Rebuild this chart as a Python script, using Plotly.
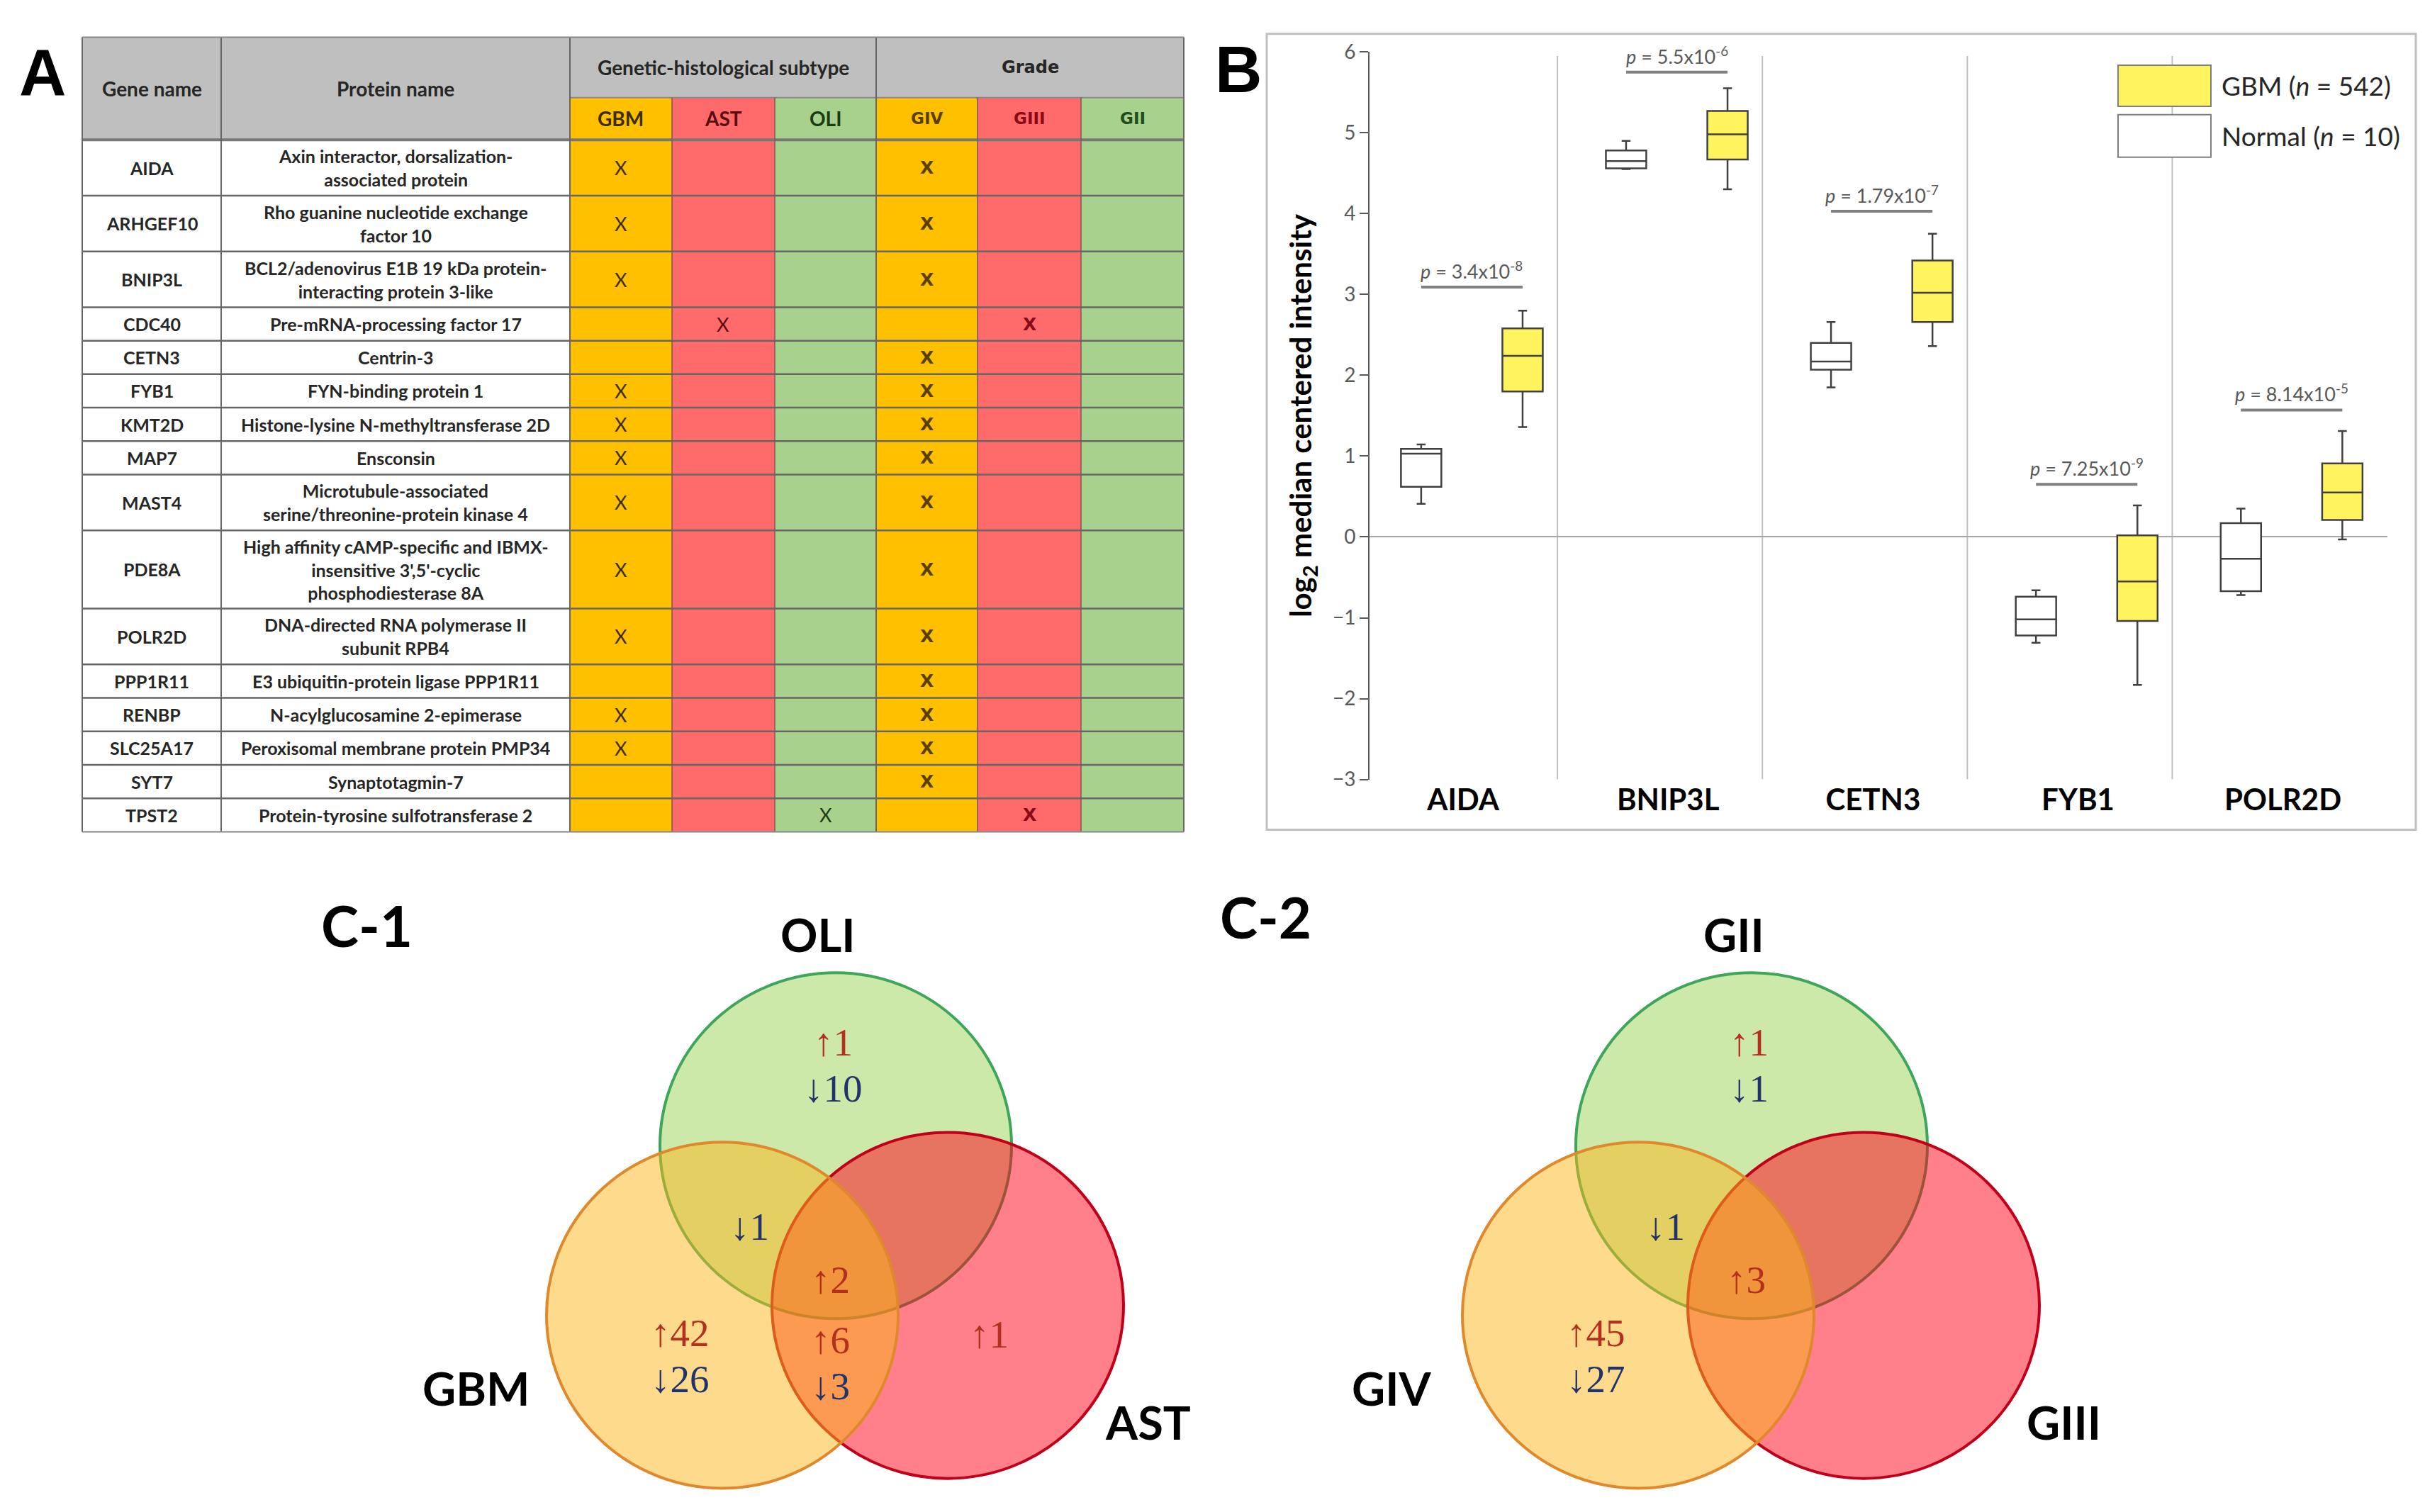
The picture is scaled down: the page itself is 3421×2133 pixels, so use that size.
import plotly.graph_objects as go

W, H = 3421, 2133

# ---------------- Panel A : table data ----------------
genes = ["AIDA", "ARHGEF10", "BNIP3L", "CDC40", "CETN3", "FYB1", "KMT2D", "MAP7",
         "MAST4", "PDE8A", "POLR2D", "PPP1R11", "RENBP", "SLC25A17", "SYT7", "TPST2"]
proteins = [
    "Axin interactor, dorsalization-<br>associated protein",
    "Rho guanine nucleotide exchange<br>factor 10",
    "BCL2/adenovirus E1B 19 kDa protein-<br>interacting protein 3-like",
    "Pre-mRNA-processing factor 17",
    "Centrin-3",
    "FYN-binding protein 1",
    "Histone-lysine N-methyltransferase 2D",
    "Ensconsin",
    "Microtubule-associated<br>serine/threonine-protein kinase 4",
    "High affinity cAMP-specific and IBMX-<br>insensitive 3',5'-cyclic<br>phosphodiesterase 8A",
    "DNA-directed RNA polymerase II<br>subunit RPB4",
    "E3 ubiquitin-protein ligase PPP1R11",
    "N-acylglucosamine 2-epimerase",
    "Peroxisomal membrane protein PMP34",
    "Synaptotagmin-7",
    "Protein-tyrosine sulfotransferase 2",
]
subtype_mark = ["GBM", "GBM", "GBM", "AST", "", "GBM", "GBM", "GBM",
                "GBM", "GBM", "GBM", "", "GBM", "GBM", "", "OLI"]
grade_mark = ["GIV", "GIV", "GIV", "GIII", "GIV", "GIV", "GIV", "GIV",
              "GIV", "GIV", "GIV", "GIV", "GIV", "GIV", "GIV", "GIII"]
subtype_cols = ["GBM", "AST", "OLI"]
grade_cols = ["GIV", "GIII", "GII"]
header_group = ["Genetic-histological subtype", "Grade"]

# ---------------- Panel B : box plot data ----------------
box_genes = ["AIDA", "BNIP3L", "CETN3", "FYB1", "POLR2D"]
normal_low = [0.41, 4.55, 1.85, -1.31, -0.72]
normal_q1 = [0.62, 4.56, 2.07, -1.22, -0.67]
normal_med = [1.03, 4.65, 2.17, -1.02, -0.27]
normal_q3 = [1.09, 4.78, 2.40, -0.74, 0.17]
normal_high = [1.145, 4.90, 2.66, -0.66, 0.35]
gbm_low = [1.36, 4.30, 2.36, -1.83, -0.03]
gbm_q1 = [1.80, 4.67, 2.66, -1.04, 0.21]
gbm_med = [2.24, 4.98, 3.02, -0.55, 0.55]
gbm_q3 = [2.58, 5.27, 3.42, 0.02, 0.91]
gbm_high = [2.80, 5.55, 3.75, 0.39, 1.31]
p_values = ["3.4x10<sup>-8</sup>", "5.5x10<sup>-6</sup>", "1.79x10<sup>-7</sup>",
            "7.25x10<sup>-9</sup>", "8.14x10<sup>-5</sup>"]
p_line_y = [3.09, 5.75, 4.03, 0.65, 1.57]
legend_labels = ["GBM (<i>n</i> = 542)", "Normal (<i>n</i> = 10)"]

# ---------------- Panel C : Venn data ----------------
venn_titles = ["C-1", "C-2"]
venn_sets = [["GBM", "AST", "OLI"], ["GIV", "GIII", "GII"]]   # left, right, top
venn_regions = ["T", "LT", "LRT", "L", "LR", "R", "RT"]
venn_up = [[1, 0, 2, 42, 6, 1, 0], [1, 0, 3, 45, 0, 0, 0]]
venn_down = [[10, 1, 0, 26, 3, 0, 0], [1, 1, 0, 27, 0, 0, 0]]

# ---------------- helpers / style ----------------
NARROW = "Lato, sans-serif"
VERD = "DejaVu Sans, sans-serif"
SANS = "Lato, sans-serif"
SERIF = "Liberation Serif, Times New Roman, serif"


def X(px):
    return px / W


def Y(py):
    return 1 - py / H


shapes = []
annots = []


def rect(x0, y0, x1, y1, fill=None, line=None, lw=0, layer="above"):
    d = dict(type="rect", xref="paper", yref="paper", x0=X(x0), x1=X(x1), y0=Y(y1), y1=Y(y0),
             layer=layer, line=dict(width=lw, color=line or "rgba(0,0,0,0)"))
    if fill:
        d["fillcolor"] = fill
    shapes.append(d)


def pline(x0, y0, x1, y1, color, lw):
    shapes.append(dict(type="line", xref="paper", yref="paper", x0=X(x0), x1=X(x1),
                       y0=Y(y0), y1=Y(y1), line=dict(color=color, width=lw)))


def text(px, py, t, size, color="#1a1a1a", family=SANS, xanchor="center"):
    annots.append(dict(x=X(px), y=Y(py), xref="paper", yref="paper", text=t, showarrow=False,
                       xanchor=xanchor, yanchor="middle", align="center",
                       font=dict(size=size, color=color, family=family)))


# ================= Panel A =================
col_edges = [108, 304, 796, 940, 1085, 1228, 1371, 1517, 1662]
tab_top, head_split, head_bot, tab_bot = 27, 113.5, 174, 1166
group_fill = {"GBM": "#FFC000", "AST": "#FF6B6B", "OLI": "#A9D18E",
              "GIV": "#FFC000", "GIII": "#FF6B6B", "GII": "#A9D18E"}
group_text = {"GBM": "#3d2c00", "AST": "#5a0d10", "OLI": "#1d3b12",
              "GIV": "#5a4000", "GIII": "#8b0a18", "GII": "#1e4d1e"}
all_cols = subtype_cols + grade_cols

rect(col_edges[0], tab_top, col_edges[2], head_bot, fill="#BFBFBF")
rect(col_edges[2], tab_top, col_edges[-1], head_split, fill="#BFBFBF")
for k, c in enumerate(all_cols):
    rect(col_edges[2 + k], head_split, col_edges[3 + k], tab_bot, fill=group_fill[c])
rect(col_edges[0], head_bot, col_edges[2], tab_bot, fill="white")

n_lines = [p.count("<br>") + 1 for p in proteins]
weights = [48 + 32 * (n - 1) for n in n_lines]
scale = (tab_bot - head_bot) / sum(weights)
row_edges = [head_bot]
for wgt in weights:
    row_edges.append(row_edges[-1] + wgt * scale)

for yb in row_edges[1:-1]:
    pline(col_edges[0], yb, col_edges[-1], yb, "#666666", 2.5)
pline(col_edges[0], head_bot, col_edges[-1], head_bot, "#777777", 4)
pline(col_edges[2], head_split, col_edges[-1], head_split, "#888888", 2)
for k, xe in enumerate(col_edges):
    if k in (0, 1, 2, 5, 8):
        pline(xe, tab_top, xe, tab_bot, "#666666", 2)
    else:
        pline(xe, head_split, xe, tab_bot, "#7a5a5a", 1.5)
pline(col_edges[0], tab_top, col_edges[-1], tab_top, "#888888", 2)
pline(col_edges[0], tab_bot, col_edges[-1], tab_bot, "#888888", 2)

text((col_edges[0] + col_edges[1]) / 2, (tab_top + head_bot) / 2, "<b>Gene name</b>", 28, "#262626", NARROW)
text((col_edges[1] + col_edges[2]) / 2, (tab_top + head_bot) / 2, "<b>Protein name</b>", 28, "#262626", NARROW)
text((col_edges[2] + col_edges[5]) / 2, (tab_top + head_split) / 2, "<b>%s</b>" % header_group[0], 28, "#262626", NARROW)
text((col_edges[5] + col_edges[8]) / 2, (tab_top + head_split) / 2, "<b>%s</b>" % header_group[1], 24, "#262626", VERD)
for k, c in enumerate(all_cols):
    fam, sz = (NARROW, 28) if k < 3 else (VERD, 23)
    text((col_edges[2 + k] + col_edges[3 + k]) / 2, (head_split + head_bot) / 2, "<b>%s</b>" % c, sz,
         group_text[c], fam)

for r, g in enumerate(genes):
    yc = (row_edges[r] + row_edges[r + 1]) / 2
    text((col_edges[0] + col_edges[1]) / 2, yc, "<b>%s</b>" % g, 25, "#262626", NARROW)
    text((col_edges[1] + col_edges[2]) / 2, yc, "<b>%s</b>" % proteins[r], 25, "#262626", NARROW)
    if subtype_mark[r]:
        k = all_cols.index(subtype_mark[r])
        text((col_edges[2 + k] + col_edges[3 + k]) / 2, yc, "X", 27, group_text[subtype_mark[r]], NARROW)
    if grade_mark[r]:
        k = all_cols.index(grade_mark[r])
        text((col_edges[2 + k] + col_edges[3 + k]) / 2, yc, "<b>X</b>", 25, group_text[grade_mark[r]], VERD)

text(52, 77, "<b>A</b>", 92, "black", "Liberation Sans, Arial, sans-serif")

# ================= Panel B =================
NORMAL_OFF, GBM_OFF, BOX_W = -0.165, 0.33, 0.197
idx = list(range(len(box_genes)))
fig = go.Figure()
fig.add_trace(go.Box(x=[i + NORMAL_OFF for i in idx], q1=normal_q1, median=normal_med, q3=normal_q3,
                     lowerfence=normal_low, upperfence=normal_high, width=BOX_W,
                     fillcolor="white", line=dict(color="#404040", width=2.5), whiskerwidth=0.22,
                     boxpoints=False, showlegend=False, hoverinfo="skip", name="Normal"))
fig.add_trace(go.Box(x=[i + GBM_OFF for i in idx], q1=gbm_q1, median=gbm_med, q3=gbm_q3,
                     lowerfence=gbm_low, upperfence=gbm_high, width=BOX_W,
                     fillcolor="#FFF35E", line=dict(color="#404040", width=2.5), whiskerwidth=0.22,
                     boxpoints=False, showlegend=False, hoverinfo="skip", name="GBM"))

for i in idx[:-1]:
    shapes.append(dict(type="line", xref="x", yref="y", x0=i + 0.5, x1=i + 0.5, y0=-3, y1=5.95,
                       layer="below", line=dict(color="#BFBFBF", width=2)))
for i in idx:
    shapes.append(dict(type="line", xref="x", yref="y", x0=i + NORMAL_OFF, x1=i + GBM_OFF,
                       y0=p_line_y[i], y1=p_line_y[i], line=dict(color="#808080", width=4)))
    annots.append(dict(x=i + (NORMAL_OFF + GBM_OFF) / 2, y=p_line_y[i], xref="x", yref="y",
                       text="<i>p</i> = " + p_values[i], showarrow=False, yanchor="bottom", yshift=4,
                       font=dict(size=27, color="#595959", family=NARROW)))

rect(2980, 67, 3111, 126, fill="#FFF35E", line="#7F7F7F", lw=2)
rect(2980, 138, 3111, 199, fill="white", line="#7F7F7F", lw=2)
text(3124, 96, legend_labels[0], 37, "#262626", NARROW, xanchor="left")
text(3124, 168, legend_labels[1], 37, "#262626", NARROW, xanchor="left")

rect(1779, 22, 3400, 1163, line="#BFBFBF", lw=3)
text(1739, 73, "<b>B</b>", 92, "black", "Liberation Sans, Arial, sans-serif")

# ================= Panel C =================
venn_dx = [0, 1292]
title_pos = [(509, 1300), (1777, 1288)]
circ = {"T": (1171, 1616), "R": (1329, 1845), "L": (1011, 1859)}
R0 = 248
circ_style = {
    "T": ("rgba(155,211,85,0.5)", "#3da65a"),
    "R": ("rgba(255,0,21,0.5)", "#c0001a"),
    "L": ("rgba(251,181,25,0.5)", "#e0892c"),
}
region_pos = {"T": (1167, 1501), "LT": (1049, 1732), "LRT": (1163, 1808), "L": (951, 1918),
              "LR": (1163, 1928), "R": (1387, 1887), "RT": (1270, 1720)}
label_pos = [(663, 1963), (1611, 2012), (1146, 1313)]   # left, right, top set labels
UP_C, DOWN_C = "#b3301f", "#22336b"
LINE_GAP = 66

for v in range(2):
    dx = venn_dx[v]
    for key in ["T", "R", "L"]:
        cx, cy = circ[key]
        fill, lc = circ_style[key]
        shapes.append(dict(type="circle", xref="paper", yref="paper",
                           x0=X(cx + dx - R0), x1=X(cx + dx + R0), y0=Y(cy + R0), y1=Y(cy - R0),
                           fillcolor=fill, line=dict(color=lc, width=4)))
    for j, reg in enumerate(venn_regions):
        lines = []
        if venn_up[v][j]:
            lines.append(("\u2191%d" % venn_up[v][j], UP_C))
        if venn_down[v][j]:
            lines.append(("\u2193%d" % venn_down[v][j], DOWN_C))
        px, py = region_pos[reg]
        for m, (t, col) in enumerate(lines):
            yy = py + (m - (len(lines) - 1) / 2) * LINE_GAP
            text(px + dx, yy, t, 55, col, SERIF)
    for s in range(3):
        px, py = label_pos[s]
        text(px + dx, py, "<b>%s</b>" % venn_sets[v][s], 65, "black", SANS)
    text(title_pos[v][0], title_pos[v][1], "<b>%s</b>" % venn_titles[v], 80, "black", SANS)

fig.update_layout(
    width=W, height=H, margin=dict(l=0, r=0, t=0, b=0), autosize=False,
    paper_bgcolor="white", plot_bgcolor="white",
    shapes=shapes, annotations=annots,
    xaxis=dict(domain=[1924 / W, 3360 / W], range=[-0.417, 4.55], tickvals=[i + 0.04 for i in idx],
               ticktext=["<b>%s</b>" % g for g in box_genes], showline=False, showgrid=False,
               zeroline=False, ticks="", tickfont=dict(family=SANS, size=42, color="black")),
    yaxis=dict(domain=[1 - 1091 / H, 1 - 48 / H], range=[-3, 6], dtick=1, showgrid=False,
               showline=True, linecolor="#595959", linewidth=2, ticks="outside", ticklen=12,
               tickcolor="#595959", tickwidth=2, tickfont=dict(family=NARROW, size=28, color="#595959"),
               zeroline=True, zerolinecolor="#A6A6A6", zerolinewidth=2,
               title=dict(text="<b>log<sub>2</sub> median centered intensity</b>",
                          font=dict(family=SANS, size=42, color="black"), standoff=16)),
    showlegend=False,
)

fig.write_html("out.html")
